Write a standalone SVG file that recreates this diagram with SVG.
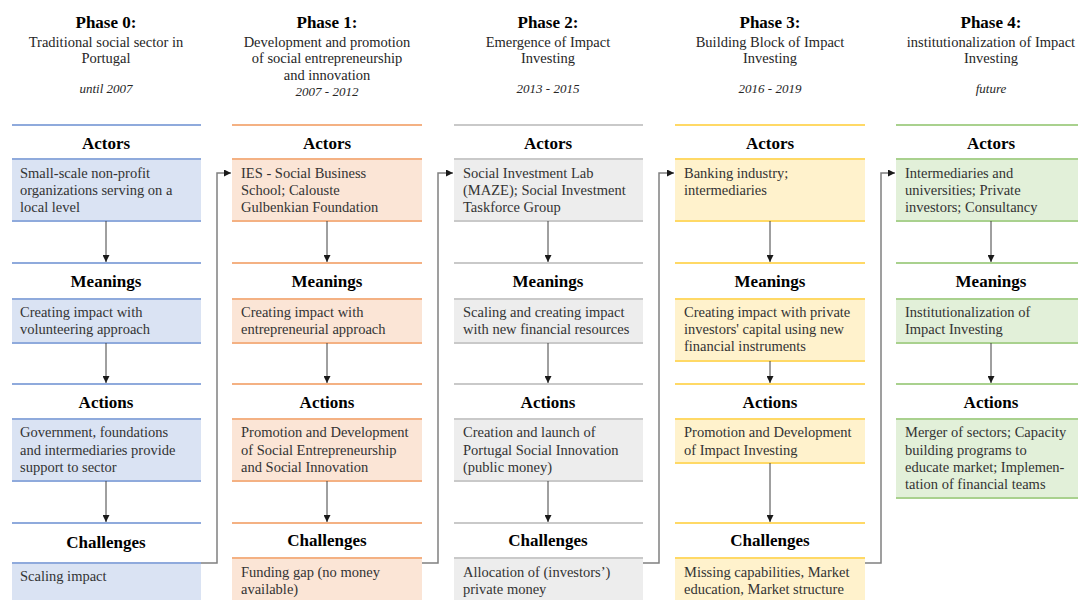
<svg xmlns="http://www.w3.org/2000/svg" width="1078" height="600" viewBox="0 0 1078 600">
<style>
text{font-family:"Liberation Serif","Times New Roman",serif}
.t{font-size:17px;font-weight:bold;fill:#000;text-anchor:middle}
.sub{font-size:14.5px;fill:#262626;text-anchor:middle}
.date{font-size:13px;font-style:italic;fill:#262626;text-anchor:middle}
.h{font-size:17px;font-weight:bold;fill:#000;text-anchor:middle}
.bt{font-size:14.5px;fill:#333}
.blue line{stroke:#8faadc;stroke-width:2}
.blue rect{fill:#dae3f3}
.orange line{stroke:#f4b183;stroke-width:2}
.orange rect{fill:#fbe5d6}
.gray line{stroke:#c9c9c9;stroke-width:2}
.gray rect{fill:#ededed}
.yellow line{stroke:#ffd966;stroke-width:2}
.yellow rect{fill:#fff2cc}
.green line{stroke:#a9d18e;stroke-width:2}
.green rect{fill:#e2f0d9}
.v{stroke:#404040;stroke-width:1;fill:none}
.c{stroke:#808080;stroke-width:1.5;fill:none}
</style>
<defs>
<marker id="ah" viewBox="0 0 10 10" refX="10" refY="5" markerWidth="7" markerHeight="7" markerUnits="userSpaceOnUse" orient="auto">
<path d="M0,0 L10,5 L0,10 z" fill="#1a1a1a"/>
</marker>
</defs>

<!-- Phase 0 -->
<g id="phase0" class="blue">
<text class="t" x="106" y="28">Phase 0:</text>
<text class="sub" x="106" y="47">Traditional social sector in</text>
<text class="sub" x="106" y="63">Portugal</text>
<text class="date" x="106" y="93">until 2007</text>
<line x1="12" y1="125" x2="201" y2="125"/>
<text class="h" x="106" y="149">Actors</text>
<g id="p0-actors"><rect x="12" y="159" width="189" height="62"/><line x1="12" y1="159" x2="201" y2="159"/><line x1="12" y1="221" x2="201" y2="221"/>
<text class="bt" x="20" y="178">Small-scale non-profit</text><text class="bt" x="20" y="195">organizations serving on a</text><text class="bt" x="20" y="212">local level</text></g>
<line x1="12" y1="263" x2="201" y2="263"/>
<text class="h" x="106" y="287">Meanings</text>
<g id="p0-meanings"><rect x="12" y="299" width="189" height="44"/><line x1="12" y1="299" x2="201" y2="299"/><line x1="12" y1="343" x2="201" y2="343"/>
<text class="bt" x="20" y="317">Creating impact with</text><text class="bt" x="20" y="334">volunteering approach</text></g>
<line x1="12" y1="384" x2="201" y2="384"/>
<text class="h" x="106" y="408">Actions</text>
<g id="p0-actions"><rect x="12" y="419" width="189" height="62"/><line x1="12" y1="419" x2="201" y2="419"/><line x1="12" y1="481" x2="201" y2="481"/>
<text class="bt" x="20" y="437">Government, foundations</text><text class="bt" x="20" y="455">and intermediaries provide</text><text class="bt" x="20" y="472">support to sector</text></g>
<line x1="12" y1="523" x2="201" y2="523"/>
<text class="h" x="106" y="548">Challenges</text>
<g id="p0-challenges"><rect x="12" y="563" width="189" height="42"/><line x1="12" y1="563" x2="201" y2="563"/>
<text class="bt" x="20" y="581">Scaling impact</text></g>
</g>

<!-- Phase 1 -->
<g id="phase1" class="orange">
<text class="t" x="327" y="28">Phase 1:</text>
<text class="sub" x="327" y="47">Development and promotion</text>
<text class="sub" x="327" y="63">of social entrepreneurship</text>
<text class="sub" x="327" y="80">and innovation</text>
<text class="date" x="327" y="96">2007 - 2012</text>
<line x1="232" y1="125" x2="422" y2="125"/>
<text class="h" x="327" y="149">Actors</text>
<g id="p1-actors"><rect x="232" y="159" width="190" height="62"/><line x1="232" y1="159" x2="422" y2="159"/><line x1="232" y1="221" x2="422" y2="221"/>
<text class="bt" x="241" y="178">IES - Social Business</text><text class="bt" x="241" y="195">School; Calouste</text><text class="bt" x="241" y="212">Gulbenkian Foundation</text></g>
<line x1="232" y1="263" x2="422" y2="263"/>
<text class="h" x="327" y="287">Meanings</text>
<g id="p1-meanings"><rect x="232" y="299" width="190" height="44"/><line x1="232" y1="299" x2="422" y2="299"/><line x1="232" y1="343" x2="422" y2="343"/>
<text class="bt" x="241" y="317">Creating impact with</text><text class="bt" x="241" y="334">entrepreneurial approach</text></g>
<line x1="232" y1="384" x2="422" y2="384"/>
<text class="h" x="327" y="408">Actions</text>
<g id="p1-actions"><rect x="232" y="419" width="190" height="62"/><line x1="232" y1="419" x2="422" y2="419"/><line x1="232" y1="481" x2="422" y2="481"/>
<text class="bt" x="241" y="437">Promotion and Development</text><text class="bt" x="241" y="455">of Social Entrepreneurship</text><text class="bt" x="241" y="472">and Social Innovation</text></g>
<line x1="232" y1="523" x2="422" y2="523"/>
<text class="h" x="327" y="546">Challenges</text>
<g id="p1-challenges"><rect x="232" y="558" width="190" height="47"/><line x1="232" y1="558" x2="422" y2="558"/>
<text class="bt" x="241" y="577">Funding gap (no money</text><text class="bt" x="241" y="594">available)</text></g>
</g>

<!-- Phase 2 -->
<g id="phase2" class="gray">
<text class="t" x="548" y="28">Phase 2:</text>
<text class="sub" x="548" y="47">Emergence of Impact</text>
<text class="sub" x="548" y="63">Investing</text>
<text class="date" x="548" y="93">2013 - 2015</text>
<line x1="454" y1="125" x2="643" y2="125"/>
<text class="h" x="548" y="149">Actors</text>
<g id="p2-actors"><rect x="454" y="159" width="189" height="62"/><line x1="454" y1="159" x2="643" y2="159"/><line x1="454" y1="221" x2="643" y2="221"/>
<text class="bt" x="463" y="178">Social Investment Lab</text><text class="bt" x="463" y="195">(MAZE); Social Investment</text><text class="bt" x="463" y="212">Taskforce Group</text></g>
<line x1="454" y1="263" x2="643" y2="263"/>
<text class="h" x="548" y="287">Meanings</text>
<g id="p2-meanings"><rect x="454" y="299" width="189" height="44"/><line x1="454" y1="299" x2="643" y2="299"/><line x1="454" y1="343" x2="643" y2="343"/>
<text class="bt" x="463" y="317">Scaling and creating impact</text><text class="bt" x="463" y="334">with new financial resources</text></g>
<line x1="454" y1="384" x2="643" y2="384"/>
<text class="h" x="548" y="408">Actions</text>
<g id="p2-actions"><rect x="454" y="419" width="189" height="62"/><line x1="454" y1="419" x2="643" y2="419"/><line x1="454" y1="481" x2="643" y2="481"/>
<text class="bt" x="463" y="437">Creation and launch of</text><text class="bt" x="463" y="455">Portugal Social Innovation</text><text class="bt" x="463" y="472">(public money)</text></g>
<line x1="454" y1="523" x2="643" y2="523"/>
<text class="h" x="548" y="546">Challenges</text>
<g id="p2-challenges"><rect x="454" y="558" width="189" height="47"/><line x1="454" y1="558" x2="643" y2="558"/>
<text class="bt" x="463" y="577">Allocation of (investors’)</text><text class="bt" x="463" y="594">private money</text></g>
</g>

<!-- Phase 3 -->
<g id="phase3" class="yellow">
<text class="t" x="770" y="28">Phase 3:</text>
<text class="sub" x="770" y="47">Building Block of Impact</text>
<text class="sub" x="770" y="63">Investing</text>
<text class="date" x="770" y="93">2016 - 2019</text>
<line x1="675" y1="125" x2="865" y2="125"/>
<text class="h" x="770" y="149">Actors</text>
<g id="p3-actors"><rect x="675" y="159" width="190" height="62"/><line x1="675" y1="159" x2="865" y2="159"/><line x1="675" y1="221" x2="865" y2="221"/>
<text class="bt" x="684" y="178">Banking industry;</text><text class="bt" x="684" y="195">intermediaries</text></g>
<line x1="675" y1="263" x2="865" y2="263"/>
<text class="h" x="770" y="287">Meanings</text>
<g id="p3-meanings"><rect x="675" y="299" width="190" height="62"/><line x1="675" y1="299" x2="865" y2="299"/><line x1="675" y1="361" x2="865" y2="361"/>
<text class="bt" x="684" y="317">Creating impact with private</text><text class="bt" x="684" y="334">investors' capital using new</text><text class="bt" x="684" y="351">financial instruments</text></g>
<line x1="675" y1="384" x2="865" y2="384"/>
<text class="h" x="770" y="408">Actions</text>
<g id="p3-actions"><rect x="675" y="419" width="190" height="44"/><line x1="675" y1="419" x2="865" y2="419"/><line x1="675" y1="463" x2="865" y2="463"/>
<text class="bt" x="684" y="437">Promotion and Development</text><text class="bt" x="684" y="455">of Impact Investing</text></g>
<line x1="675" y1="523" x2="865" y2="523"/>
<text class="h" x="770" y="546">Challenges</text>
<g id="p3-challenges"><rect x="675" y="558" width="190" height="47"/><line x1="675" y1="558" x2="865" y2="558"/>
<text class="bt" x="684" y="577">Missing capabilities, Market</text><text class="bt" x="684" y="594">education, Market structure</text></g>
</g>

<!-- Phase 4 -->
<g id="phase4" class="green">
<text class="t" x="991" y="28">Phase 4:</text>
<text class="sub" x="991" y="47">institutionalization of Impact</text>
<text class="sub" x="991" y="63">Investing</text>
<text class="date" x="991" y="93">future</text>
<line x1="896" y1="125" x2="1086" y2="125"/>
<text class="h" x="991" y="149">Actors</text>
<g id="p4-actors"><rect x="896" y="159" width="190" height="62"/><line x1="896" y1="159" x2="1086" y2="159"/><line x1="896" y1="221" x2="1086" y2="221"/>
<text class="bt" x="905" y="178">Intermediaries and</text><text class="bt" x="905" y="195">universities; Private</text><text class="bt" x="905" y="212">investors; Consultancy</text></g>
<line x1="896" y1="263" x2="1086" y2="263"/>
<text class="h" x="991" y="287">Meanings</text>
<g id="p4-meanings"><rect x="896" y="299" width="190" height="44"/><line x1="896" y1="299" x2="1086" y2="299"/><line x1="896" y1="343" x2="1086" y2="343"/>
<text class="bt" x="905" y="317">Institutionalization of</text><text class="bt" x="905" y="334">Impact Investing</text></g>
<line x1="896" y1="384" x2="1086" y2="384"/>
<text class="h" x="991" y="408">Actions</text>
<g id="p4-actions"><rect x="896" y="419" width="190" height="79"/><line x1="896" y1="419" x2="1086" y2="419"/><line x1="896" y1="498" x2="1086" y2="498"/>
<text class="bt" x="905" y="437">Merger of sectors; Capacity</text><text class="bt" x="905" y="455">building programs to</text><text class="bt" x="905" y="472">educate market; Implemen-</text><text class="bt" x="905" y="489">tation of financial teams</text></g>
</g>

<!-- Connectors -->
<g id="connectors">
<path class="v" d="M106,221 V262" marker-end="url(#ah)"/>
<path class="v" d="M106,343 V383" marker-end="url(#ah)"/>
<path class="v" d="M106,481 V522" marker-end="url(#ah)"/>
<path class="v" d="M327,221 V262" marker-end="url(#ah)"/>
<path class="v" d="M327,343 V383" marker-end="url(#ah)"/>
<path class="v" d="M327,481 V522" marker-end="url(#ah)"/>
<path class="v" d="M548,221 V262" marker-end="url(#ah)"/>
<path class="v" d="M548,343 V383" marker-end="url(#ah)"/>
<path class="v" d="M548,481 V522" marker-end="url(#ah)"/>
<path class="v" d="M770,221 V262" marker-end="url(#ah)"/>
<path class="v" d="M770,361 V383" marker-end="url(#ah)"/>
<path class="v" d="M770,463 V522" marker-end="url(#ah)"/>
<path class="v" d="M991,221 V262" marker-end="url(#ah)"/>
<path class="v" d="M991,343 V383" marker-end="url(#ah)"/>
<path class="c" d="M201,563 H217 V173 H231" marker-end="url(#ah)"/>
<path class="c" d="M422,563 H438 V173 H453" marker-end="url(#ah)"/>
<path class="c" d="M643,563 H659 V173 H674" marker-end="url(#ah)"/>
<path class="c" d="M865,563 H881 V173 H895" marker-end="url(#ah)"/>
</g>
</svg>
